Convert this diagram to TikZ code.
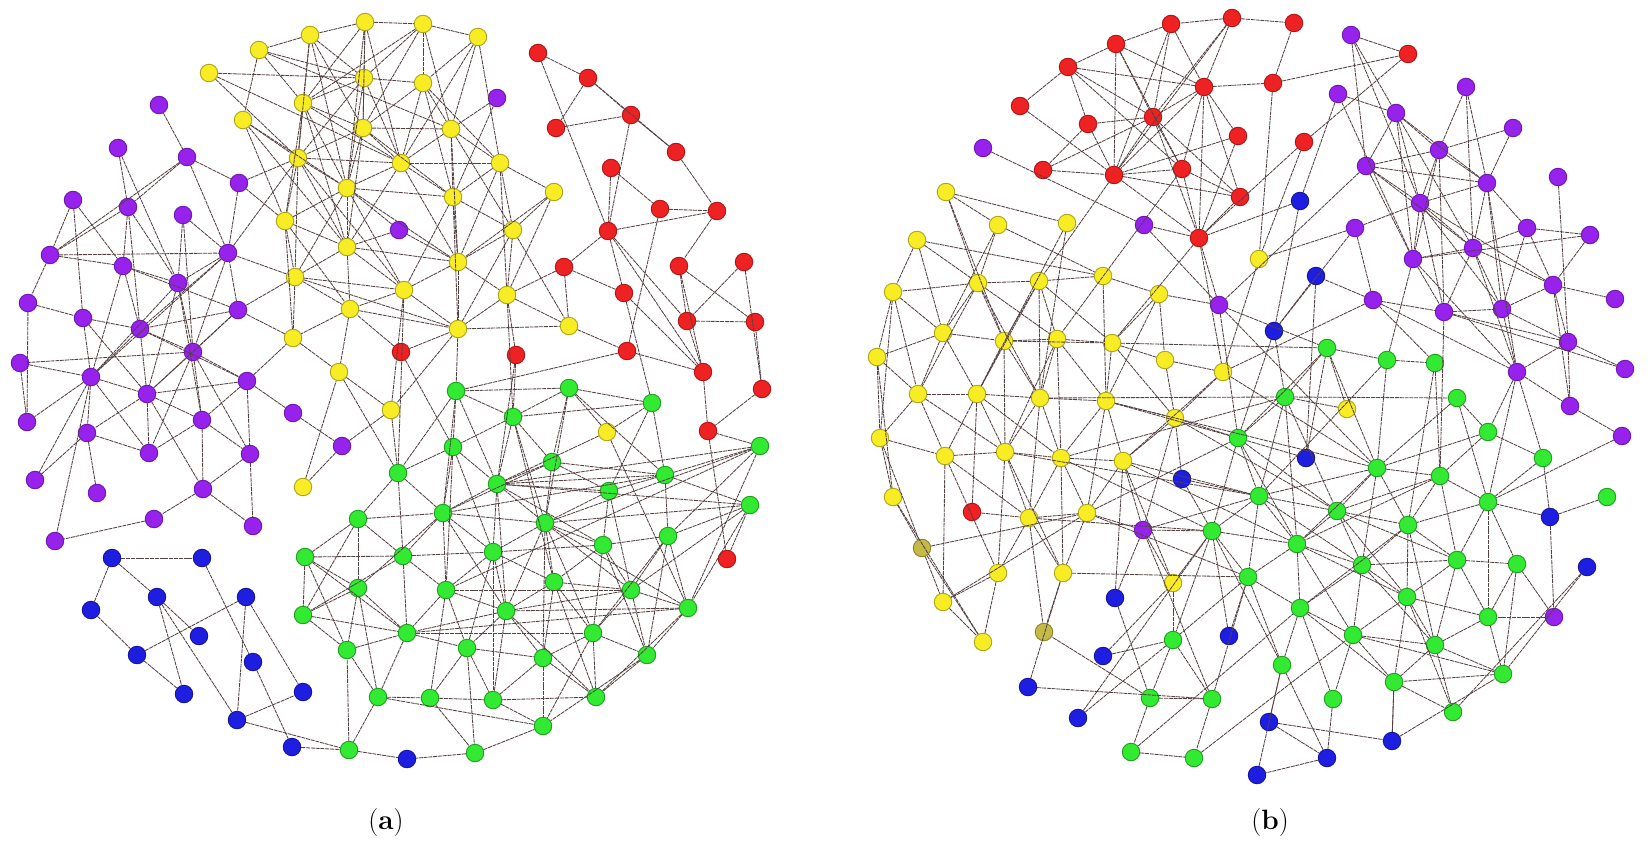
\documentclass[tikz,border=0pt]{standalone}
\usetikzlibrary{arrows.meta}
\definecolor{yf}{RGB}{248,236,36}\definecolor{yd}{RGB}{175,165,25}
\definecolor{of}{RGB}{196,186,72}\definecolor{od}{RGB}{140,132,40}
\definecolor{pf}{RGB}{150,34,236}\definecolor{pd}{RGB}{110,22,180}
\definecolor{rf}{RGB}{238,34,34}\definecolor{rd}{RGB}{178,20,20}
\definecolor{gf}{RGB}{50,234,50}\definecolor{gd}{RGB}{30,160,30}
\definecolor{bf}{RGB}{30,30,224}\definecolor{bd}{RGB}{20,20,160}
\definecolor{ec}{RGB}{85,65,65}
\tikzset{
 vtx/.style={circle,inner sep=0pt,minimum size=17.5pt,line width=0.9pt},
 yel/.style={vtx,fill=yf,draw=yd},
 oli/.style={vtx,fill=of,draw=od},
 pur/.style={vtx,fill=pf,draw=pd},
 red/.style={vtx,fill=rf,draw=rd},
 grn/.style={vtx,fill=gf,draw=gd},
 blu/.style={vtx,fill=bf,draw=bd},
 edge/.style={draw=ec,line width=0.85pt,dash pattern=on 4pt off 0.8pt},
 lab/.style={font=\fontsize{28}{32}\selectfont}
}
\begin{document}
\begin{tikzpicture}[x=1pt,y=1pt]
\useasboundingbox[fill=white] (0,0) rectangle (1651,-853);
% ---------------- panel (a) ----------------
\foreach \n/\x/\y in {ya1/365/22,ya2/423/24,ya3/478/37,ya4/310/35,ya5/259/50,ya6/209/73,ya7/364/78,ya8/423/83,ya9/303/103,ya10/243/120,ya11/363/128,ya12/451/129,ya13/298/158,ya14/401/163,ya15/500/163,ya16/347/188,ya17/453/197,ya18/554/192,ya19/285/221,ya20/347/247,ya21/513/230,ya22/458/262,ya23/295/277,ya24/404/290,ya25/507/295,ya26/350/309,ya27/458/329,ya28/569/326,ya29/293/338,ya30/339/372,ya31/391/410,ya32/303/487,ya33/607/432}
  \node[yel] (\n) at (\x,-\y) {};
\foreach \n/\x/\y in {pa1/159/105,pa2/118/148,pa3/187/157,pa4/239/183,pa5/73/200,pa6/128/207,pa7/183/215,pa8/50/255,pa9/228/253,pa10/123/266,pa11/178/283,pa12/399/230,pa13/28/303,pa14/83/318,pa15/238/310,pa16/140/329,pa17/193/352,pa18/20/363,pa19/91/377,pa20/247/381,pa21/147/394,pa22/27/422,pa23/87/433,pa24/202/420,pa25/149/453,pa26/250/454,pa27/293/413,pa28/342/446,pa29/35/480,pa30/97/493,pa31/203/489,pa32/154/519,pa33/253/526,pa34/55/541,pa35/497/98}
  \node[pur] (\n) at (\x,-\y) {};
\foreach \n/\x/\y in {ra1/538/53,ra2/588/78,ra3/556/128,ra4/631/115,ra5/676/152,ra6/611/168,ra7/660/209,ra8/717/211,ra9/608/231,ra10/564/267,ra11/679/266,ra12/744/262,ra13/624/293,ra14/687/321,ra15/755/322,ra16/627/351,ra17/516/355,ra18/401/352,ra19/703/372,ra20/762/389,ra21/708/431,ra22/727/559}
  \node[red] (\n) at (\x,-\y) {};
\foreach \n/\x/\y in {ga1/456/391,ga2/569/388,ga3/652/403,ga4/513/417,ga5/453/447,ga6/552/462,ga7/398/473,ga8/497/484,ga9/609/491,ga10/665/475,ga11/760/446,ga12/443/513,ga13/545/523,ga14/750/505,ga15/668/536,ga16/603/545,ga17/403/556,ga18/493/552,ga19/554/582,ga20/446/590,ga21/631/590,ga22/688/608,ga23/506/611,ga24/407/633,ga25/593/633,ga26/467/648,ga27/543/658,ga28/647/655,ga29/378/697,ga30/430/698,ga31/493/700,ga32/596/697,ga33/543/726,ga34/475/753,ga35/358/519,ga36/305/557,ga37/358/588,ga38/303/615,ga39/347/650,ga40/349/750}
  \node[grn] (\n) at (\x,-\y) {};
\foreach \n/\x/\y in {ba1/112/558,ba2/202/558,ba3/91/610,ba4/157/597,ba5/246/597,ba6/199/636,ba7/137/655,ba8/253/662,ba9/184/694,ba10/303/692,ba11/237/720,ba12/292/747,ba13/407/759}
  \node[blu] (\n) at (\x,-\y) {};
% edges (a)
\foreach \a/\b in {ya1/ya2,ya1/ya4,ya1/ya7,ya1/ya11,ya1/ya9,ya1/ya14,ya1/ya16,ya2/ya3,ya2/ya7,ya2/ya8,ya2/ya12,ya2/ya9,ya3/ya8,ya3/ya14,ya4/ya5,ya4/ya9,ya4/ya7,ya4/ya13,ya4/ya16,ya5/ya10,ya5/ya9,ya5/ya7,ya5/ya12,ya6/ya7,ya6/ya14,ya7/ya8,ya7/ya9,ya7/ya11,ya7/ya13,ya7/ya16,ya8/ya11,ya8/ya12,ya8/ya14,ya8/ya15,ya8/ya17,ya9/ya13,ya9/ya11,ya9/ya16,ya9/ya14,ya9/ya19,ya10/ya13,ya10/ya16,ya10/ya20,ya11/ya14,ya11/ya12,ya11/ya16,ya11/ya17,ya11/ya13,ya12/ya15,ya12/ya17,ya12/ya14,ya12/ya21,ya13/ya19,ya13/ya23,ya13/ya14,ya13/ya16,ya13/ya20,ya13/ya24,ya14/ya16,ya14/ya17,ya14/ya20,ya14/ya22,ya14/ya15,ya15/ya18,ya15/ya17,ya15/ya21,ya15/ya22,ya16/ya19,ya16/ya20,ya16/ya23,ya16/ya17,ya16/ya22,ya17/ya22,ya17/ya21,ya17/ya24,ya17/ya27,ya18/ya21,ya18/ya22,ya19/ya20,ya19/ya23,ya19/ya26,ya20/ya23,ya20/ya24,ya20/ya22,ya21/ya25,ya21/ya22,ya21/ya27,ya22/ya24,ya22/ya27,ya22/ya25,ya23/ya24,ya23/ya26,ya23/ya29,ya23/ya27,ya24/ya27,ya24/ya26,ya24/ya31,ya25/ya27,ya25/ya28,ya26/ya27,ya26/ya29,ya26/ya30,ya27/ya28,ya27/ya31,ya29/ya30,ya30/ya31,ya32/ya30,ya33/ga2,ya33/ga3,ya33/ga22,ya33/ga8,pa12/ya20,pa12/ya22,pa12/ya16,pa35/ya12,pa35/ya17,ya13/pa4,ya19/pa4,ya23/pa9,ya23/pa15,ya29/pa15,ya27/ga1,ya25/ga4,ya24/ga7,ya31/ga7,ya30/ga7,ya28/ra16,ya28/ra10,ra18/ya26,ra18/ya27,ra18/ga5,ya3/ya15,ya4/ya11,ya10/ya19,ya6/ya13,ya19/ya29,ya20/ya26,ya11/ya20,ya12/ya22,ya18/ya25,ya15/ya25,ya2/ya11,ya3/ya12,ya9/ya20,ya7/ya14,ya16/ya24,ya21/ya28}
  \draw[edge] (\a) -- (\b);
\foreach \a/\b in {ga1/ga2,ga1/ga5,ga1/ga7,ga1/ga8,ga1/ga12,ga2/ga3,ga2/ga6,ga2/ga4,ga2/ga13,ga3/ga4,ga3/ga10,ga4/ga5,ga4/ga6,ga4/ga8,ga4/ga13,ga4/ga19,ga5/ga7,ga5/ga8,ga5/ga12,ga5/ga18,ga5/ga20,ga6/ga8,ga6/ga9,ga6/ga13,ga6/ga12,ga7/ga12,ga7/ga17,ga7/ga35,ga8/ga12,ga8/ga13,ga8/ga18,ga8/ga9,ga8/ga10,ga8/ga16,ga9/ga10,ga9/ga13,ga9/ga16,ga9/ga21,ga10/ga14,ga10/ga15,ga10/ga11,ga10/ga12,ga11/ga13,ga11/ga20,ga11/ga22,ga12/ga13,ga12/ga17,ga12/ga18,ga12/ga20,ga12/ga23,ga13/ga16,ga13/ga18,ga13/ga19,ga13/ga21,ga13/ga22,ga13/ga23,ga13/ga25,ga13/ga27,ga13/ga14,ga14/ga15,ga14/ga22,ga14/ga21,ga14/ga8,ga15/ga16,ga15/ga21,ga15/ga22,ga15/ga25,ga15/ga28,ga16/ga19,ga16/ga21,ga16/ga25,ga16/ga18,ga17/ga18,ga17/ga20,ga17/ga24,ga17/ga35,ga17/ga36,ga18/ga19,ga18/ga20,ga18/ga23,ga18/ga26,ga19/ga21,ga19/ga23,ga19/ga27,ga19/ga25,ga20/ga23,ga20/ga24,ga20/ga26,ga20/ga30,ga20/ga21,ga21/ga22,ga21/ga25,ga21/ga28,ga21/ga23,ga22/ga23,ga22/ga28,ga22/ga24,ga23/ga24,ga23/ga26,ga23/ga27,ga23/ga31,ga23/ga32,ga24/ga26,ga24/ga29,ga24/ga36,ga24/ga37,ga24/ga25,ga25/ga27,ga25/ga28,ga25/ga32,ga25/ga33,ga26/ga27,ga26/ga30,ga26/ga31,ga26/ga34,ga27/ga31,ga27/ga32,ga27/ga33,ga28/ga32,ga28/ga33,ga29/ga30,ga29/ga33,ga29/ga37,ga29/ga39,ga30/ga31,ga30/ga34,ga31/ga32,ga31/ga33,ga34/ga33,ga35/ga36,ga35/ga37,ga35/ga38,ga36/ga37,ga36/ga38,ga36/ga39,ga37/ga38,ga37/ga39,ga37/ga12,ga38/ga39,ga38/ga24,ga39/ga24,ga1/ra16,ga11/ra21,ga1/ga4,ga3/ga9,ga6/ga10,ga2/ga10,ga11/ga15,ga8/ga23,ga18/ga31,ga19/ga32,ga22/ga32,ga16/ga28,ga35/ga12,ga17/ga38,ga11/ga8}
  \draw[edge] (\a) -- (\b);
\foreach \a/\b in {pa1/pa3,pa2/pa11,pa3/pa4,pa3/pa9,pa3/pa8,pa3/pa6,pa4/pa9,pa5/pa14,pa5/pa10,pa6/pa8,pa6/pa16,pa6/pa11,pa6/pa10,pa7/pa11,pa7/pa17,pa8/pa9,pa8/pa13,pa8/pa10,pa9/pa11,pa9/pa16,pa9/pa17,pa9/pa19,pa9/ya13,pa10/pa16,pa10/pa15,pa10/pa11,pa11/pa19,pa11/pa21,pa11/pa17,pa11/pa24,pa13/pa14,pa13/pa22,pa14/pa16,pa14/pa19,pa14/pa21,pa15/pa16,pa15/pa17,pa15/pa21,pa16/pa17,pa16/pa19,pa16/pa20,pa16/pa21,pa17/pa18,pa17/pa24,pa17/pa20,pa17/pa21,pa17/pa26,pa17/pa25,pa18/pa19,pa18/pa22,pa19/pa21,pa19/pa22,pa19/pa23,pa19/pa25,pa19/pa34,pa19/pa29,pa20/pa21,pa20/pa24,pa20/pa27,pa20/pa26,pa21/pa23,pa21/pa24,pa21/pa25,pa23/pa30,pa23/pa29,pa23/pa25,pa24/pa26,pa24/pa31,pa24/pa25,pa26/pa31,pa26/pa33,pa31/pa32,pa31/pa33,pa32/pa34,pa27/pa28,pa28/ya32,pa28/ya31,pa20/ya29,pa15/pa9,pa2/pa6,pa5/pa8,pa7/pa9,pa10/pa19,pa21/pa31}
  \draw[edge] (\a) -- (\b);
\foreach \a/\b in {ra1/ra2,ra1/ra9,ra2/ra3,ra2/ra4,ra3/ra4,ra4/ra5,ra2/ra5,ra4/ra9,ra5/ra8,ra6/ra9,ra6/ra7,ra7/ra8,ra9/ra8,ra9/ra10,ra9/ra13,ra9/ra19,ra7/ra16,ra8/ra11,ra11/ra14,ra11/ra15,ra12/ra14,ra12/ra20,ra10/ra13,ra10/ya25,ra13/ra19,ra14/ra15,ra14/ra19,ra16/ra19,ra17/ya25,ra15/ra20,ra19/ra21,ra20/ra21,ra21/ra22,ra22/ga14,ra17/ga4,ra17/ga8,ra11/ra19,ra9/ra14,ra13/ga3,ba1/ba2,ba1/ba3,ba1/ba4,ba3/ba7,ba7/ba5,ba7/ba9,ba4/ba9,ba4/ba11,ba4/ba6,ba2/ba8,ba5/ba11,ba5/ba10,ba8/ba12,ba11/ba10,ba11/ga40,ba12/ga40,ga40/ba13,ga40/ga39,ga40/ga29,ga34/ba13}
  \draw[edge] (\a) -- (\b);
% ---------------- panel (b) ----------------
\foreach \n/\x/\y in {rb1/1232/18,rb2/1171/24,rb3/1294/23,rb4/1116/44,rb5/1068/67,rb6/1204/87,rb7/1273/83,rb8/1408/54,rb9/1020/106,rb10/1153/117,rb11/1088/124,rb12/1238/136,rb13/1304/142,rb14/1043/170,rb15/1114/175,rb16/1182/169,rb17/1240/197,rb18/1199/238,rb19/972/512}
  \node[red] (\n) at (\x,-\y) {};
\foreach \n/\x/\y in {pb1/983/148,pb2/1144/225,pb3/1219/305,pb4/1143/530,pb5/1554/617,pb6/1351/35,pb7/1338/94,pb8/1466/87,pb9/1396/113,pb10/1513/128,pb11/1439/150,pb12/1366/166,pb13/1487/183,pb14/1558/177,pb15/1420/203,pb16/1355/228,pb17/1527/228,pb18/1590/235,pb19/1473/248,pb20/1413/259,pb21/1553/285,pb22/1615/299,pb23/1373/300,pb24/1444/312,pb25/1502/309,pb26/1568/342,pb27/1625/369,pb28/1517/372,pb29/1570/406,pb30/1622/436}
  \node[pur] (\n) at (\x,-\y) {};
\foreach \n/\x/\y in {bb1/1300/201,bb2/1316/276,bb3/1274/331,bb4/1306/458,bb5/1182/479,bb6/1550/517,bb7/1587/567,bb8/1115/598,bb9/1229/636,bb10/1103/656,bb11/1028/687,bb12/1078/718,bb13/1269/722,bb14/1392/741,bb15/1327/758,bb16/1257/775}
  \node[blu] (\n) at (\x,-\y) {};
\foreach \n/\x/\y in {yb1/946/192,yb2/998/225,yb3/1067/223,yb4/917/240,yb5/1259/259,yb6/1103/276,yb7/1039/281,yb8/978/283,yb9/1159/294,yb10/893/292,yb11/943/333,yb12/1004/341,yb13/1057/339,yb14/1112/343,yb15/1165/360,yb16/1223/372,yb17/877/357,yb18/918/394,yb19/977/394,yb20/1040/398,yb21/1106/401,yb22/1347/409,yb23/1175/418,yb24/880/438,yb25/945/456,yb26/1005/452,yb27/1061/458,yb28/1123/461,yb29/893/497,yb30/1029/518,yb31/1087/513,yb33/998/573,yb34/1063/573,yb35/1173/583,yb36/943/602,yb37/983/642}
  \node[yel] (\n) at (\x,-\y) {};
\foreach \n/\x/\y in {yb32/922/548,yb38/1044/632}
  \node[oli] (\n) at (\x,-\y) {};
\foreach \n/\x/\y in {gb1/1327/348,gb2/1387/360,gb3/1435/363,gb4/1285/397,gb5/1457/398,gb6/1488/432,gb7/1238/438,gb8/1543/458,gb9/1377/468,gb10/1440/476,gb11/1259/496,gb12/1488/502,gb13/1607/497,gb14/1337/511,gb15/1408/525,gb16/1212/531,gb17/1297/544,gb18/1362/565,gb19/1457/560,gb20/1517/564,gb21/1248/577,gb22/1407/597,gb23/1300/608,gb24/1488/617,gb25/1353/635,gb26/1435/645,gb27/1282/665,gb28/1503/674,gb29/1173/640,gb30/1394/682,gb31/1333/699,gb32/1453/712,gb33/1150/698,gb34/1212/699,gb35/1131/752,gb36/1194/758}
  \node[grn] (\n) at (\x,-\y) {};
% edges (b)
\foreach \a/\b in {rb1/rb2,rb1/rb3,rb2/rb4,rb2/rb6,rb2/rb10,rb2/rb15,rb1/rb10,rb1/rb15,rb1/rb6,rb4/rb5,rb4/rb15,rb4/rb6,rb4/rb10,rb4/rb16,rb5/rb9,rb5/rb6,rb5/rb11,rb5/rb10,rb5/rb16,rb6/rb7,rb6/rb10,rb6/rb12,rb6/rb16,rb6/rb18,rb6/rb17,rb6/rb15,rb3/rb7,rb7/rb8,rb10/rb11,rb10/rb15,rb10/rb16,rb10/rb18,rb10/rb17,rb10/rb14,rb11/rb15,rb12/rb15,rb12/rb18,rb13/rb8,rb13/rb18,rb9/rb15,rb14/rb15,rb14/rb11,rb15/rb16,rb15/rb17,rb15/rb18,rb15/yb7,rb16/rb17,rb16/rb18,rb17/rb18,rb18/pb3,rb18/pb2,pb1/pb2,pb2/pb3,pb3/yb9,pb3/gb7,pb3/gb1,pb4/yb23,pb4/gb16,pb4/yb31,pb4/gb11,pb4/bb8,rb7/yb5,rb13/yb5,rb18/yb16,rb18/yb14,rb16/yb13}
  \draw[edge] (\a) -- (\b);
\foreach \a/\b in {pb6/pb9,pb6/pb12,pb6/pb15,pb6/rb8,pb7/pb9,pb7/pb20,pb8/pb11,pb8/pb13,pb8/pb19,pb9/pb11,pb9/pb13,pb9/pb15,pb9/pb19,pb9/pb20,pb10/pb11,pb10/pb13,pb11/pb12,pb11/pb15,pb11/pb13,pb11/pb24,pb11/pb20,pb12/pb13,pb12/pb15,pb12/pb19,pb12/pb3,pb13/pb15,pb13/pb17,pb13/pb19,pb13/pb25,pb13/pb28,pb14/pb26,pb15/pb19,pb15/pb20,pb15/pb24,pb15/pb25,pb15/pb21,pb16/pb23,pb16/pb15,pb16/yb5,pb17/pb18,pb17/pb19,pb17/pb21,pb17/pb25,pb18/pb21,pb18/pb20,pb19/pb20,pb19/pb25,pb19/pb24,pb19/pb21,pb20/pb24,pb20/pb28,pb21/pb22,pb21/pb25,pb21/pb26,pb21/pb29,pb23/pb24,pb23/pb28,pb23/bb2,pb24/pb25,pb24/pb26,pb24/pb27,pb25/pb26,pb25/pb28,pb26/pb27,pb26/pb29,pb26/pb28,pb28/pb29,pb28/gb8,pb29/pb30,pb28/gb6,pb23/yb16,pb7/bb1,pb16/bb3,pb24/gb10,pb20/gb2,pb23/gb3,pb28/gb12,pb3/gb9,pb9/pb12,pb12/pb20,pb19/pb28}
  \draw[edge] (\a) -- (\b);
\foreach \a/\b in {bb1/bb3,bb1/rb18,bb2/bb3,bb2/bb4,bb3/gb4,bb3/gb7,bb4/gb1,bb4/gb7,bb5/yb23,bb5/gb16,bb5/gb11,bb6/gb8,bb6/gb13,bb6/gb12,bb6/pb5,bb7/gb32,bb7/gb28,bb8/gb33,bb8/yb28,bb9/gb21,bb9/gb16,bb10/yb35,bb10/gb29,bb11/yb34,bb11/gb34,bb12/gb29,bb12/gb16,bb13/gb27,bb13/bb14,bb13/bb15,bb14/gb30,bb15/bb16,bb15/gb27,bb14/gb28,bb16/gb27,pb5/gb24,pb5/gb20,pb30/gb12}
  \draw[edge] (\a) -- (\b);
\foreach \a/\b in {yb1/yb2,yb1/yb8,yb1/yb12,yb2/yb6,yb2/yb8,yb2/yb11,yb3/yb19,yb3/yb20,yb4/yb10,yb4/yb11,yb4/yb8,yb4/yb6,yb6/yb9,yb6/yb7,yb6/yb21,yb7/yb8,yb7/yb12,yb7/yb19,yb7/yb13,yb7/yb20,yb7/yb14,yb8/yb10,yb8/yb11,yb8/yb12,yb8/yb13,yb8/yb18,yb8/yb20,yb9/yb15,yb9/yb21,yb10/yb11,yb10/yb18,yb10/yb24,yb11/yb12,yb11/yb17,yb11/yb19,yb11/yb18,yb12/yb13,yb12/yb19,yb12/yb20,yb12/yb14,yb13/yb14,yb13/yb20,yb13/yb21,yb13/yb26,yb14/yb15,yb14/yb21,yb14/yb23,yb15/yb16,yb15/yb23,yb16/yb23,yb16/yb28,yb17/yb18,yb17/yb24,yb17/yb29,yb18/yb19,yb18/yb25,yb18/yb26,yb18/yb24,yb19/yb20,yb19/yb26,yb19/yb25,yb19/yb27,yb20/yb21,yb20/yb27,yb20/yb26,yb20/yb30,yb21/yb23,yb21/yb28,yb21/yb27,yb21/yb31,yb22/gb4,yb22/gb1,yb23/yb28,yb23/gb7,yb24/yb29,yb24/yb32,yb24/yb25,yb25/yb26,yb25/yb30,yb25/yb33,yb25/yb36,yb26/yb27,yb26/yb30,yb26/yb33,yb26/yb34,yb27/yb28,yb27/yb30,yb27/yb31,yb27/yb34,yb28/yb31,yb28/yb35,yb28/pb4,yb29/yb32,yb29/yb37,yb30/yb31,yb30/yb33,yb30/yb38,yb30/yb34,yb31/yb34,yb31/yb36,yb31/gb7,yb32/yb36,yb32/yb37,yb32/yb31,yb33/yb37,yb33/yb36,yb34/yb38,yb35/gb16,yb35/pb4,yb36/yb37,yb19/rb19,rb19/yb30,yb12/yb26,yb13/yb27,yb10/yb17,yb1/yb3,yb9/yb14,yb5/yb16,yb21/gb7,yb28/gb11,yb31/gb21,yb27/gb4,yb26/gb11,yb27/gb16,yb21/gb9,yb23/gb14,yb28/gb17,yb34/gb21,yb30/gb16,yb16/gb9,yb14/gb1,yb20/gb4}
  \draw[edge] (\a) -- (\b);
\foreach \a/\b in {gb1/gb2,gb1/gb4,gb1/gb9,gb1/gb7,gb2/gb3,gb2/gb9,gb2/gb11,gb3/gb10,gb3/gb15,gb4/gb7,gb4/gb5,gb4/gb11,gb4/gb14,gb4/gb17,gb5/gb6,gb5/gb9,gb5/gb12,gb6/gb8,gb6/gb10,gb6/gb9,gb7/gb11,gb7/gb16,gb7/gb17,gb7/gb14,gb8/gb12,gb9/gb10,gb9/gb14,gb9/gb15,gb9/gb17,gb9/gb18,gb9/gb11,gb10/gb12,gb10/gb15,gb10/gb19,gb10/gb17,gb10/gb14,gb11/gb14,gb11/gb16,gb11/gb17,gb11/gb21,gb11/gb18,gb12/gb19,gb12/gb20,gb12/gb24,gb12/gb15,gb14/gb15,gb14/gb17,gb14/gb18,gb14/gb22,gb14/gb19,gb15/gb18,gb15/gb19,gb15/gb22,gb15/gb26,gb15/gb23,gb16/gb17,gb16/gb21,gb16/gb29,gb16/gb27,gb17/gb18,gb17/gb21,gb17/gb23,gb17/gb25,gb17/gb22,gb18/gb22,gb18/gb23,gb18/gb25,gb18/gb26,gb18/gb19,gb19/gb20,gb19/gb22,gb19/gb24,gb19/gb26,gb20/gb24,gb20/gb28,gb21/gb23,gb21/gb27,gb21/gb29,gb21/gb34,gb22/gb25,gb22/gb26,gb22/gb30,gb22/gb32,gb22/gb24,gb23/gb25,gb23/gb27,gb23/gb31,gb23/gb30,gb24/gb26,gb24/gb28,gb25/gb26,gb25/gb30,gb25/gb31,gb25/gb28,gb26/gb30,gb26/gb32,gb26/gb28,gb28/gb30,gb29/gb33,gb29/gb34,gb30/gb32,gb30/bb14,gb31/bb15,gb33/gb34,gb33/gb35,gb34/gb36,gb35/gb36,gb33/yb38,gb34/pb4,gb29/yb35,gb36/gb25,gb35/gb23}
  \draw[edge] (\a) -- (\b);
% labels
\node[lab] (la) at (386,-823) {(\textbf{a})};
\node[lab] (lb) at (1270,-823) {(\textbf{b})};
\end{tikzpicture}
\end{document}
